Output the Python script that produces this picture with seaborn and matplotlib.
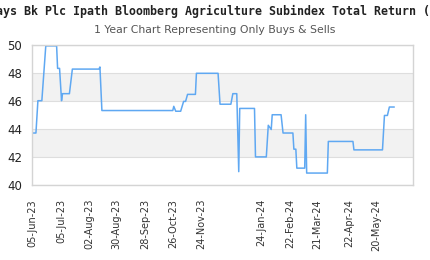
import matplotlib
matplotlib.use("Agg")
import matplotlib.pyplot as plt
import seaborn as sns
import pandas as pd

dates = ["2023-06-05", "2023-06-09", "2023-06-11", "2023-06-15", "2023-06-19", "2023-06-30",
         "2023-07-01", "2023-07-03", "2023-07-05", "2023-07-06", "2023-07-13", "2023-07-16",
         "2023-08-12", "2023-08-13", "2023-08-15", "2023-10-26", "2023-10-27", "2023-10-29",
         "2023-11-03", "2023-11-06", "2023-11-08", "2023-11-10", "2023-11-18", "2023-11-19",
         "2023-12-11", "2023-12-13", "2023-12-24", "2023-12-26", "2023-12-30", "2024-01-01",
         "2024-01-02", "2024-01-17", "2024-01-18", "2024-01-29", "2024-01-31", "2024-02-03",
         "2024-02-04", "2024-02-13", "2024-02-15", "2024-02-25", "2024-02-26", "2024-02-28",
         "2024-02-29", "2024-03-08", "2024-03-09", "2024-03-10", "2024-03-31", "2024-04-01",
         "2024-04-26", "2024-04-27", "2024-05-26", "2024-05-28", "2024-05-31", "2024-06-02",
         "2024-06-07"]
prices = [43.7, 43.7, 46.0, 46.0, 49.9, 49.9,
          48.3, 48.3, 46.0, 46.5, 46.5, 48.25,
          48.25, 48.4, 45.3, 45.3, 45.6, 45.25,
          45.25, 45.95, 45.95, 46.45, 46.45, 47.95,
          47.95, 45.75, 45.75, 46.5, 46.5, 40.95,
          45.45, 45.45, 42.0, 42.0, 44.25, 43.95,
          45.0, 45.0, 43.7, 43.7, 42.55, 42.55,
          41.2, 41.2, 45.0, 40.85, 40.85, 43.1,
          43.1, 42.5, 42.5, 44.95, 44.95, 45.55,
          45.55]
tick_dates = ["2023-06-05", "2023-07-05", "2023-08-02", "2023-08-30", "2023-09-28",
              "2023-10-26", "2023-11-24", "2024-01-24", "2024-02-22", "2024-03-21",
              "2024-04-22", "2024-05-20"]
y_ticks = [40, 42, 44, 46, 48, 50]
title = "Barclays Bk Plc Ipath Bloomberg Agriculture Subindex Total Return (JJA)"
subtitle = "1 Year Chart Representing Only Buys & Sells"

sns.set_theme(style="white")
plt.rcParams['font.family'] = ['DejaVu Sans']

df = pd.DataFrame({"date": pd.to_datetime(dates), "price": prices})

fig = plt.figure(figsize=(4.3, 2.6), dpi=100)
ax = fig.add_axes([32 / 430, 1 - 185 / 260, (413 - 32) / 430, (185 - 44.5) / 260])

# alternating bands
for lo in (42, 46):
    ax.axhspan(lo, lo + 2, color="#f2f2f2", zorder=0, lw=0)
for yv in y_ticks:
    ax.axhline(yv, color="#dedede", lw=0.8, zorder=0.5)

sns.lineplot(data=df, x="date", y="price", ax=ax, color="#5fa8f2", lw=1.1, zorder=2)

ax.set_ylim(40, 50)
ax.set_xlim(pd.Timestamp("2023-06-05"), pd.Timestamp("2024-06-26"))
ax.set_yticks(y_ticks)
ax.set_yticklabels([str(v) for v in y_ticks], fontsize=8.5, color="#222222")
td = pd.to_datetime(tick_dates)
ax.set_xticks(td)
ax.set_xticklabels([d.strftime("%d-%b-%y") for d in td], rotation=90, fontsize=7.0, color="#333333")
ax.tick_params(axis="x", length=0, pad=10)
ax.tick_params(axis="y", length=0, pad=7)
ax.set_xlabel("")
ax.set_ylabel("")
for s in ax.spines.values():
    s.set_color("#d4d4d4")
    s.set_linewidth(1)

fig.text(-39 / 430, 1 - 11 / 260, title, ha="left", va="center", fontsize=8.35,
         fontweight="bold", family="DejaVu Sans Mono", color="#222222")
fig.text(0.5, 1 - 30 / 260, subtitle, ha="center", va="center", fontsize=7.8, color="#555555")

fig.savefig("out.png", dpi=100)
